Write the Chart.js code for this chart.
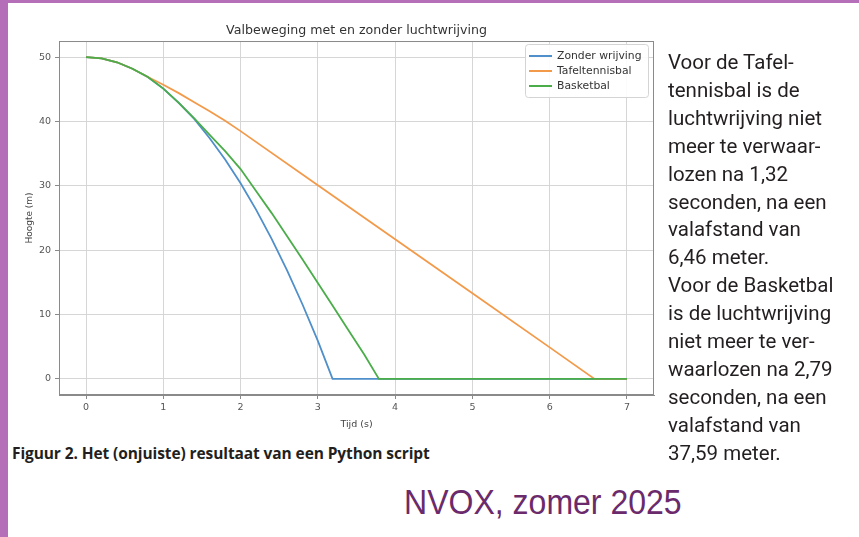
<!DOCTYPE html>
<html>
<head>
<meta charset="utf-8">
<script src="https://cdn.jsdelivr.net/npm/chart.js@4.4.1/dist/chart.umd.min.js"></script>
<style>
  html, body { margin: 0; padding: 0; background: #ffffff; }
  body { width: 859px; height: 537px; position: relative; overflow: hidden; }
  #barLeft { position: absolute; left: 0; top: 0; width: 8px; height: 537px; background: #b56fb9; }
  #barTop { position: absolute; left: 0; top: 0; width: 859px; height: 3px; background: #b56fb9; }
  #wrap { position: absolute; left: 0; top: 0; width: 713px; height: 440px; }
  #side { position: absolute; left: 668px; top: 49px; font-family: Roboto, "Open Sans", sans-serif; font-size: 20.5px; line-height: 27.9px; color: #231f20; white-space: pre; z-index: 2; }
  #caption { position: absolute; left: 12px; top: 442px; font-family: "Open Sans", Roboto, sans-serif; font-weight: bold; font-size: 15.5px; letter-spacing: -0.1px; color: #231f20; white-space: nowrap; z-index: 2; }
  #nvox { position: absolute; left: 404px; top: 482px; font-family: "Liberation Sans", Arial, sans-serif; font-size: 35px; color: #6b2a6b; white-space: nowrap; z-index: 2; transform: scaleX(0.915); transform-origin: 0 0; }
</style>
</head>
<body>
<div id="barTop"></div>
<div id="barLeft"></div>
<div id="wrap"><canvas id="c"></canvas></div>
<div id="side">Voor de Tafel-
tennisbal is de
luchtwrijving niet
meer te verwaar-
lozen na 1,32
seconden, na een
valafstand van
6,46 meter.
Voor de Basketbal
is de luchtwrijving
niet meer te ver-
waarlozen na 2,79
seconden, na een
valafstand van
37,59 meter.</div>
<div id="caption">Figuur 2. Het (onjuiste) resultaat van een Python script</div>
<div id="nvox">NVOX, zomer 2025</div>
<script>
// ---- data ----
const chartTitle = "Valbeweging met en zonder luchtwrijving";
const xTitle = "Tijd (s)";
const yTitle = "Hoogte (m)";
const seriesNames = ["Zonder wrijving", "Tafeltennisbal", "Basketbal"];

const xTicks = [0, 1, 2, 3, 4, 5, 6, 7];
const yTicks = [0, 10, 20, 30, 40, 50];

const blueT = [0, 0.2, 0.4, 0.6, 0.8, 1.0, 1.2, 1.4, 1.6, 1.8, 2.0, 2.2, 2.4, 2.6, 2.8, 3.0, 3.19, 7.0];
const blueH = [50, 49.8, 49.2, 48.2, 46.9, 45.1, 42.9, 40.4, 37.4, 34.1, 30.4, 26.3, 21.8, 16.9, 11.6, 5.9, 0, 0];

const orangeT = [0, 0.2, 0.4, 0.6, 0.8, 1.0, 1.2, 1.4, 1.6, 1.8, 2.0, 3.0, 4.0, 5.0, 6.0, 6.58, 7.0];
const orangeH = [50, 49.8, 49.2, 48.2, 46.9, 45.7, 44.4, 43.0, 41.6, 40.1, 38.5, 30.1, 21.7, 13.3, 4.9, 0, 0];

const greenT = [0, 0.2, 0.4, 0.6, 0.8, 1.0, 1.2, 1.4, 1.6, 1.8, 2.0, 2.2, 2.4, 2.6, 2.8, 3.0, 3.2, 3.4, 3.6, 3.79, 7.0];
const greenH = [50, 49.8, 49.2, 48.2, 46.9, 45.1, 42.9, 40.5, 37.9, 35.4, 32.6, 29.2, 25.8, 22.2, 18.6, 14.9, 11.2, 7.5, 3.8, 0, 0];

// ---- styling ----
const colors = ["#4f8fca", "#f39a4a", "#4aad4a"];
const tickFont = { family: "'DejaVu Sans', sans-serif", size: 9.5 };

function pts(t, h) { return t.map((v, i) => ({ x: v, y: h[i] })); }

const frameAndLegend = {
  id: 'frameAndLegend',
  afterDatasetsDraw(chart) {
    const { ctx, chartArea: a } = chart;
    ctx.save();
    ctx.strokeStyle = '#8a8a8a';
    ctx.lineWidth = 1;
    ctx.strokeRect(a.left + 0.5, a.top + 0.5, a.right - a.left - 1, a.bottom - a.top - 1);
    const bx = a.right - 129, by = a.top + 3, bw = 123, bh = 53;
    ctx.fillStyle = 'rgba(255,255,255,0.9)';
    ctx.strokeStyle = '#d4d4d4';
    ctx.beginPath();
    if (ctx.roundRect) ctx.roundRect(bx + 0.5, by + 0.5, bw, bh, 3); else ctx.rect(bx + 0.5, by + 0.5, bw, bh);
    ctx.fill();
    ctx.stroke();
    ctx.font = "10.8px 'DejaVu Sans', sans-serif";
    ctx.textBaseline = 'middle';
    seriesNames.forEach((name, i) => {
      const y = by + 12 + i * 15;
      ctx.strokeStyle = colors[i];
      ctx.lineWidth = 2;
      ctx.beginPath();
      ctx.moveTo(bx + 4, y);
      ctx.lineTo(bx + 27, y);
      ctx.stroke();
      ctx.fillStyle = '#333333';
      ctx.fillText(name, bx + 32, y);
    });
    ctx.restore();
  }
};

new Chart(document.getElementById('c'), {
  type: 'line',
  data: {
    datasets: [
      { label: seriesNames[0], data: pts(blueT, blueH), borderColor: colors[0], order: 2 },
      { label: seriesNames[1], data: pts(orangeT, orangeH), borderColor: colors[1], order: 1 },
      { label: seriesNames[2], data: pts(greenT, greenH), borderColor: colors[2], order: 0 }
    ]
  },
  options: {
    responsive: true,
    maintainAspectRatio: false,
    animation: false,
    layout: { padding: { left: 0, right: 59, top: 0, bottom: 0 } },
    elements: {
      point: { radius: 0 },
      line: { borderWidth: 1.8, tension: 0, fill: false }
    },
    plugins: {
      legend: { display: false },
      tooltip: { enabled: false },
      title: {
        display: true,
        fullSize: false,
        text: chartTitle,
        color: '#333333',
        font: { family: "'DejaVu Sans', sans-serif", size: 12.6, weight: 'normal' },
        padding: { top: 23, bottom: 2.9 }
      }
    },
    scales: {
      x: {
        type: 'linear',
        min: -0.35,
        max: 7.35,
        afterBuildTicks: s => { s.ticks = xTicks.map(v => ({ value: v })); },
        afterFit: s => { s.height = 45; },
        ticks: { color: '#555555', font: tickFont, padding: 3, maxRotation: 0, autoSkip: false },
        grid: { color: '#d6d6d6', tickColor: '#8a8a8a', tickLength: 4, lineWidth: 1 },
        border: { color: '#8a8a8a' },
        title: { display: true, text: xTitle, color: '#444444', font: tickFont, padding: { top: 0, bottom: 10 } }
      },
      y: {
        type: 'linear',
        min: -2.5,
        max: 52.5,
        afterBuildTicks: s => { s.ticks = yTicks.map(v => ({ value: v })); },
        afterFit: s => { s.width = 59; },
        ticks: { color: '#555555', font: tickFont, padding: 4, autoSkip: false },
        grid: { color: '#d6d6d6', tickColor: '#8a8a8a', tickLength: 4, lineWidth: 1 },
        border: { color: '#8a8a8a' },
        title: { display: true, text: yTitle, color: '#444444', font: { family: "'DejaVu Sans', sans-serif", size: 9 }, padding: { top: 24, bottom: 0 } }
      }
    }
  },
  plugins: [frameAndLegend]
});
</script>
</body>
</html>
